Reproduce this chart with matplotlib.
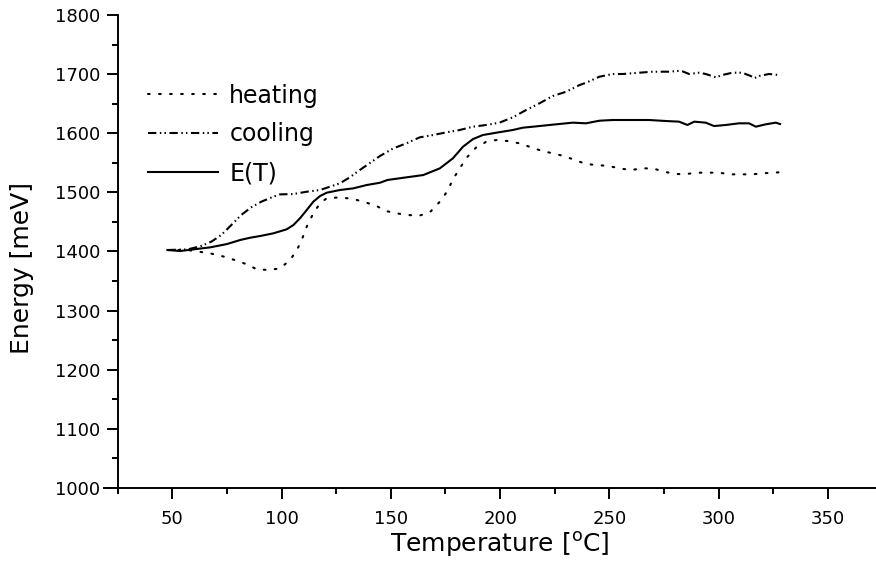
import matplotlib
matplotlib.use('Agg')
import matplotlib.pyplot as plt
from matplotlib.ticker import MultipleLocator

#------------------------------data--------------------------------------------------
heating_T = [47.8, 57.1, 67.3, 75.0, 84.1, 88.7, 94.0, 99.3, 103.9, 107.0, 109.2, 111.5,
             114.5, 117.6, 120.6, 126.7, 132.8, 138.9, 143.5, 147.7, 152.6, 157.9, 162.9,
             167.8, 172.4, 175.9, 178.4, 181.5, 184.8, 189.1, 193.7, 198.2, 203.5, 208.9,
             214.2, 218.8, 224.1, 229.1, 234.3, 239.3, 244.4, 249.7, 254.5, 259.9, 264.9,
             269.8, 275.1, 280.0, 285.0, 290.3, 295.3, 300.2, 305.5, 310.6, 315.4, 320.0,
             325.0, 328.0]
heating_E = [1402.5, 1402.5, 1396.9, 1390.1, 1378.3, 1369.8, 1368.7, 1371.5, 1385.6, 1402.5,
             1419.4, 1442.0, 1464.5, 1481.5, 1489.9, 1491.6, 1488.8, 1482.5, 1476.9, 1468.5,
             1464.5, 1461.7, 1460.5, 1466.2, 1484.2, 1502.3, 1522.0, 1540.6, 1559.2, 1576.2,
             1585.7, 1588.5, 1586.8, 1582.9, 1576.2, 1570.5, 1566.0, 1561.5, 1554.7, 1547.9,
             1546.2, 1544.6, 1540.6, 1537.8, 1540.6, 1540.6, 1535.0, 1531.0, 1531.0, 1533.3,
             1533.3, 1533.3, 1530.5, 1530.5, 1530.5, 1532.2, 1533.3, 1534.0]

cooling_T = [47.8, 57.1, 63.2, 67.8, 72.4, 77.0, 81.5, 86.1, 90.7, 96.2, 99.3, 105.4, 111.5,
             117.6, 122.1, 126.7, 131.0, 135.8, 145.0, 151.1, 157.1, 163.2, 169.3, 175.4,
             181.5, 187.6, 193.7, 199.7, 205.8, 211.9, 218.0, 224.1, 230.2, 236.3, 239.3,
             245.4, 251.5, 256.1, 263.7, 269.8, 277.4, 282.7, 286.5, 291.1, 294.1, 298.7,
             301.7, 306.3, 310.8, 314.7, 316.2, 318.5, 323.0, 327.6]
cooling_E = [1402.5, 1403.6, 1409.3, 1416.5, 1427.9, 1444.8, 1461.7, 1474.7, 1484.2, 1492.7,
             1496.6, 1497.2, 1501.1, 1504.0, 1509.6, 1515.3, 1525.0, 1537.8, 1561.5, 1574.4,
             1582.9, 1593.1, 1597.0, 1601.5, 1605.5, 1611.1, 1614.0, 1617.9, 1626.9, 1639.3,
             1650.6, 1663.0, 1670.2, 1681.5, 1685.4, 1695.6, 1700.2, 1700.2, 1702.4, 1704.1,
             1704.1, 1705.8, 1700.2, 1702.4, 1700.2, 1694.6, 1698.5, 1702.4, 1702.4, 1696.8,
             1692.9, 1696.8, 1700.2, 1698.5]

ET_T = [47.8, 53.6, 59.7, 67.3, 75.0, 81.0, 85.6, 90.2, 96.2, 102.3, 105.4, 108.4, 111.5,
        114.5, 117.6, 120.6, 126.7, 132.8, 138.9, 145.0, 148.5, 157.1, 164.8, 172.4, 178.4,
        183.0, 187.6, 192.1, 198.2, 205.8, 210.4, 218.0, 225.6, 233.2, 239.3, 245.4, 251.5,
        260.6, 268.2, 275.9, 281.9, 285.7, 288.8, 294.1, 297.9, 303.3, 309.3, 313.9, 317.0,
        321.5, 326.1, 328.1]
ET_E = [1402.5, 1400.8, 1403.6, 1407.0, 1412.6, 1419.4, 1423.3, 1426.2, 1430.7, 1437.5,
        1444.8, 1456.1, 1470.2, 1484.2, 1493.8, 1499.4, 1504.0, 1506.8, 1512.4, 1516.3,
        1521.0, 1525.4, 1529.3, 1540.6, 1557.6, 1577.2, 1590.2, 1597.0, 1600.9, 1605.5,
        1609.4, 1612.2, 1615.1, 1617.9, 1616.8, 1621.2, 1622.4, 1622.4, 1622.4, 1620.7,
        1619.6, 1614.0, 1619.6, 1617.9, 1612.2, 1614.0, 1616.8, 1616.8, 1611.1, 1615.1,
        1617.9, 1615.6]

#---------------------------------plot----------------------------------
plt.rcParams['font.family'] = ['DejaVu Sans']
plt.rcParams['mathtext.default'] = 'regular'

DPI = 100
fig = plt.figure(figsize=(876/DPI, 563/DPI), dpi=DPI)
ax = fig.add_axes([117.7/876, 1 - 488/563, 1 - 117.7/876, 473/563])

lw = 1.5
ax.plot(heating_T, heating_E, color='k', lw=lw, linestyle=(0, (0.8, 4.5)),
        dash_capstyle='round', label='heating')
ax.plot(cooling_T, cooling_E, color='k', lw=lw,
        linestyle=(0, (4.0, 1.7, 0.7, 1.5, 0.7, 1.7)), label='cooling')
ax.plot(ET_T, ET_E, color='k', lw=lw, label='E(T)')

ax.set_xlim(25, 372)
ax.set_ylim(1000, 1800)
ax.xaxis.set_major_locator(MultipleLocator(50))
ax.xaxis.set_minor_locator(MultipleLocator(25))
ax.yaxis.set_major_locator(MultipleLocator(100))
ax.yaxis.set_minor_locator(MultipleLocator(50))

for side in ['top', 'right']:
    ax.spines[side].set_visible(False)
for side in ['left', 'bottom']:
    ax.spines[side].set_linewidth(1.4)

ax.tick_params(which='major', direction='out', length=7.7, width=1.4, labelsize=13)
ax.tick_params(which='minor', direction='out', length=4, width=1.4)
ax.tick_params(axis='y', which='major', pad=5)
ax.tick_params(axis='x', which='major', pad=8)

# Origin style: the x axis line runs a little past the y axis
ax.plot([-0.018, 0], [0, 0], transform=ax.transAxes, clip_on=False, color='k', lw=1.4)

ax.set_xlabel('Temperature [$^{o}$C]', fontsize=18)
ax.set_ylabel('Energy [meV]', fontsize=18)
ax.xaxis.set_label_coords(0.504, -0.088)
ax.yaxis.set_label_coords(-0.110, 0.466)

ax.legend(loc='upper left', bbox_to_anchor=(0.040, 0.855), frameon=False, fontsize=17,
          handlelength=2.97, handletextpad=0.47, labelspacing=0.63,
          borderaxespad=0, borderpad=0)

plt.savefig('out.png', dpi=DPI)
